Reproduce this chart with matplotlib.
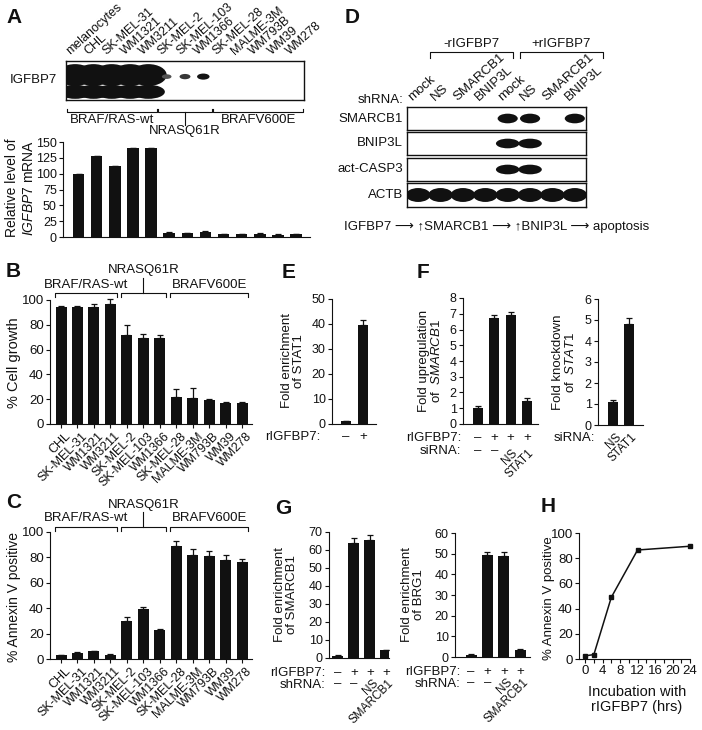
import numpy as np
import matplotlib
matplotlib.use("Agg")
import matplotlib.pyplot as plt
from matplotlib.patches import Ellipse
import matplotlib.transforms as mtransforms

plt.rcParams['font.family'] = ['Liberation Sans', 'DejaVu Sans']
plt.rcParams['mathtext.fontset'] = 'custom'
plt.rcParams['mathtext.rm'] = 'Liberation Sans'
plt.rcParams['mathtext.it'] = 'Liberation Sans:italic'
plt.rcParams['axes.linewidth'] = 0.8

INK = '#111111'

# ---- data ----
cell_lines = ["melanocytes", "CHL", "SK-MEL-31", "WM1321", "WM3211", "SK-MEL-2",
              "SK-MEL-103", "WM1366", "SK-MEL-28", "MALME-3M", "WM793B", "WM39", "WM278"]
mrna_level = [100, 128, 112, 140, 141, 7, 6, 8, 4, 4, 5, 3, 4]
mrna_err = [0, 0, 0, 0, 0, 1, 1, 1, 1.5, 1.5, 1, 1.5, 1]
blot_a_upper = [1, 1, 1, 1, 1, 0.5, 0.7, 0.95, 0, 0, 0, 0, 0]
blot_a_lower = [1, 1, 1, 1, 1, 0, 0, 0, 0, 0, 0, 0, 0]
groups_a = [("BRAF/RAS-wt", 0, 5), ("NRASQ61R", 5, 8), ("BRAFV600E", 8, 13)]

tumor_lines = cell_lines[1:]
cell_growth = [94, 94, 94, 97, 72, 69, 69, 22, 21, 19, 17, 17]
cell_growth_err = [1, 1, 2.5, 4, 8, 3.5, 2.5, 6, 8, 1, 1, 1]
annexin = [3, 5, 6, 3.5, 30, 39, 22.5, 89, 82, 81, 78, 76]
annexin_err = [0.5, 0.5, 0.5, 0.5, 3, 2, 1, 4, 5, 4, 4, 3]
groups_bc = [("BRAF/RAS-wt", 0, 3), ("NRASQ61R", 4, 6), ("BRAFV600E", 7, 11)]

d_lanes = ["mock", "NS", "SMARCB1", "BNIP3L", "mock", "NS", "SMARCB1", "BNIP3L"]
d_rows = ["SMARCB1", "BNIP3L", "act-CASP3", "ACTB"]
d_bands = [[0, 0, 0, 0, 1, 1, 0, 1],
           [0, 0, 0, 0, 1, 1, 0, 0],
           [0, 0, 0, 0, 1, 1, 0, 0],
           [1, 1, 1, 1, 1, 1, 1, 1]]
d_groups = [("-rIGFBP7", 0, 3), ("+rIGFBP7", 4, 7)]

e_rigfbp7 = ["–", "+"]
e_stat1 = [1.0, 39.5]
e_err = [0.3, 2.2]

f_rigfbp7 = ["–", "+", "+", "+"]
f_sirna = ["–", "–", "NS", "STAT1"]
f_smarcb1 = [1.0, 6.7, 6.9, 1.45]
f_smarcb1_err = [0.12, 0.25, 0.18, 0.2]
f2_sirna = ["NS", "STAT1"]
f2_knock = [1.1, 4.8]
f2_err = [0.07, 0.3]

g_rigfbp7 = ["–", "+", "+", "+"]
g_shrna = ["–", "–", "NS", "SMARCB1"]
g_smarcb1 = [1.2, 64, 65.5, 4.3]
g_smarcb1_err = [0.2, 2.5, 2.8, 0.3]
g_brg1 = [1.2, 49.5, 49, 3.5]
g_brg1_err = [0.2, 1.2, 2, 0.3]

h_hours = [0, 2, 6, 12, 24]
h_annexin = [2.5, 3.5, 49, 86.5, 89.5]

W, H = 702, 730
fig = plt.figure(figsize=(W / 100, H / 100), dpi=100)

FS_TICK = 9.5   # tick labels
FS_LAB = 9.5    # small horizontal labels
FS_ROT = 8.5    # rotated treatment labels
FS_Y2 = 9.5     # two-line axis titles


def px_axes(x0, y0, x1, y1):
    return fig.add_axes([x0 / W, 1 - y1 / H, (x1 - x0) / W, (y1 - y0) / H])


def px_text(x, y, s, **kw):
    kw.setdefault('color', INK)
    return fig.text(x / W, 1 - y / H, s, **kw)


def vlabel(x, y, s, fs=FS_Y2):
    return px_text(x, y, s, fontsize=fs, rotation=90, ha='center', va='center')


def frame(ax, xlim, ylim, yticks, fs=FS_TICK):
    ax.set_xlim(xlim)
    ax.set_ylim(ylim)
    ax.set_yticks(yticks)
    for s in ['top', 'right']:
        ax.spines[s].set_visible(False)
    for s in ['left', 'bottom']:
        ax.spines[s].set_color(INK)
    ax.tick_params(length=3, width=0.8, labelsize=fs, pad=1.5, color=INK, labelcolor=INK)


def bars(ax, vals, errs, width):
    x = np.arange(len(vals))
    ax.bar(x, vals, width, color=INK, zorder=2)
    ax.errorbar(x, vals, yerr=[np.zeros(len(vals)), errs], fmt='none', ecolor=INK,
                elinewidth=0.9, capsize=2.2, capthick=0.9, zorder=3, clip_on=False)
    return x


def bracket(ax, x0, x1, y, dy):
    tr = ax.get_xaxis_transform()
    ax.plot([x0, x0, x1, x1], [y + dy, y, y, y + dy], transform=tr, clip_on=False,
            color=INK, lw=0.8)


def under(ax, labels, dy, rot_dy=None, rot_dx=2):
    tr = ax.get_xaxis_transform()
    for i, s in enumerate(labels):
        if len(s) > 1:
            ax.annotate(s, xy=(i, 0), xycoords=tr, xytext=(rot_dx, -rot_dy),
                        textcoords='offset pixels', ha='right', va='top', rotation=45,
                        rotation_mode='anchor', fontsize=FS_ROT, color=INK, annotation_clip=False)
        else:
            ax.annotate(s, xy=(i, 0), xycoords=tr, xytext=(0, -dy), textcoords='offset pixels',
                        ha='center', va='center', fontsize=FS_LAB, color=INK, annotation_clip=False)


# panel letters
for letter, x, y in [("A", 6, 8), ("B", 6, 262), ("C", 6, 493), ("D", 345, 8),
                     ("E", 282, 263), ("F", 417, 263), ("G", 275, 499), ("H", 541, 497)]:
    px_text(x, y, letter, fontsize=15, fontweight='bold', ha='left', va='top')

# ---- A: blot ----
ax = px_axes(66, 61, 304, 100)
ax.set_xlim(0, 13)
ax.set_ylim(0, 1)
ax.set_xticks([])
ax.set_yticks([])
for s in ax.spines.values():
    s.set_linewidth(1.0)
    s.set_color(INK)
for i, v in enumerate(blot_a_upper):
    if v >= 1:
        ax.add_patch(Ellipse((i + 0.5, 0.64), 2.0, 0.56, color=INK, lw=0))
    elif v > 0:
        ax.add_patch(Ellipse((i + 0.5, 0.6), 0.35 + 0.35 * v, 0.08 + 0.08 * v,
                             color=str(0.6 - 0.55 * v), lw=0))
for i, v in enumerate(blot_a_lower):
    if v > 0:
        ax.add_patch(Ellipse((i + 0.5, 0.21), 1.8, 0.36, color=INK, lw=0))
for i, name in enumerate(cell_lines):
    ax.annotate(name, xy=(i + 0.5, 1), xycoords=('data', 'axes fraction'), xytext=(-3, 4),
                textcoords='offset pixels', rotation=42, ha='left', va='bottom',
                rotation_mode='anchor', fontsize=9, color=INK, annotation_clip=False)
px_text(57, 80, "IGFBP7", fontsize=FS_LAB, ha='right', va='center')
for name, g0, g1 in groups_a:
    bracket(ax, g0 + 0.05, g1 - 0.05, -0.31, 0.08)
    xm = (g0 + g1) / 2
    if name == "NRASQ61R":
        ax.plot([xm, xm], [-0.31, -0.64], transform=ax.get_xaxis_transform(),
                clip_on=False, color=INK, lw=0.8)
        ax.text(xm, -0.8, name, transform=ax.get_xaxis_transform(), ha='center',
                va='center', fontsize=FS_LAB, color=INK)
    else:
        ax.text(xm, -0.51, name, transform=ax.get_xaxis_transform(), ha='center',
                va='center', fontsize=FS_LAB, color=INK)

# ---- A: mRNA bars ----
ax = px_axes(63, 142, 310, 237)
bars(ax, mrna_level, mrna_err, 0.63)
frame(ax, (-0.86, 12.77), (0, 150), np.arange(0, 151, 25), fs=9)
ax.set_xticks([])
vlabel(12, 188, "Relative level of", fs=10)
vlabel(29, 188, r"$\it{IGFBP7}$ mRNA", fs=10)


# ---- B and C ----
def cell_panel(y0, y1, vals, errs, ylabel, yl, yfs, br):
    ax = px_axes(50, y0, 252, y1)
    x = bars(ax, vals, errs, 0.67)
    frame(ax, (-0.67, 11.6), (0, 100), np.arange(0, 101, 20))
    ax.set_xticks(x)
    ax.set_xticklabels(tumor_lines, rotation=45, ha='right', rotation_mode='anchor', fontsize=9)
    off = mtransforms.ScaledTranslation(0.04, 0, fig.dpi_scale_trans)
    for lab in ax.get_xticklabels():
        lab.set_transform(lab.get_transform() + off)
    by, bdy, side_y, mid_top, mid_y = br
    for name, g0, g1 in groups_bc:
        bracket(ax, g0 - 0.38, g1 + 0.38, by, bdy)
        xm = (g0 + g1) / 2
        tr = ax.get_xaxis_transform()
        if name == "NRASQ61R":
            ax.plot([xm, xm], [by, mid_top], transform=tr, clip_on=False, color=INK, lw=0.8)
            ax.text(xm, mid_y, name, transform=tr, ha='center', va='center', fontsize=FS_LAB, color=INK)
        else:
            ax.text(xm, side_y, name, transform=tr, ha='center', va='center', fontsize=FS_LAB, color=INK)
    vlabel(14, yl, ylabel, fs=yfs)


cell_panel(300, 424, cell_growth, cell_growth_err, "% Cell growth", 363, 10.5,
           (1.056, -0.032, 1.12, 1.177, 1.24))
cell_panel(532, 659, annexin, annexin_err, "% Annexin V positive", 597, 10,
           (1.039, -0.031, 1.11, 1.157, 1.21))

# ---- D: blot ----
row_px = [(107, 130), (132, 155), (158, 181), (183, 207)]
for r, (name, (y0, y1)) in enumerate(zip(d_rows, row_px)):
    ax = px_axes(407, y0, 586, y1)
    ax.set_xlim(-0.5, 7.5)
    ax.set_ylim(0, 1)
    ax.set_xticks([])
    ax.set_yticks([])
    for s in ax.spines.values():
        s.set_linewidth(1.0)
        s.set_color(INK)
    for i, v in enumerate(d_bands[r]):
        if v > 0:
            if name == "ACTB":
                ax.add_patch(Ellipse((i, 0.5), 1.1, 0.58, color=INK, lw=0))
            elif name == "SMARCB1":
                ax.add_patch(Ellipse((i, 0.5), 0.9, 0.42, color=INK, lw=0))
            else:
                ax.add_patch(Ellipse((i, 0.5), 1.05, 0.42, color=INK, lw=0))
    px_text(403, (y0 + y1) / 2, name, fontsize=FS_LAB, ha='right', va='center')
    if r == 0:
        for i, lane in enumerate(d_lanes):
            ax.annotate(lane, xy=(i, 1), xycoords=('data', 'axes fraction'), xytext=(-4, 4),
                        textcoords='offset pixels', rotation=42, ha='left', va='bottom',
                        rotation_mode='anchor', fontsize=9.5, color=INK, annotation_clip=False)
        for gname, g0, g1 in d_groups:
            bracket(ax, g0 + 0.55, g1 + 1.25, 3.39, -0.26)
            ax.text((g0 + g1) / 2 + 0.9, 3.72, gname, transform=ax.get_xaxis_transform(),
                    ha='center', va='center', fontsize=FS_LAB, color=INK)
px_text(403, 100, "shRNA:", fontsize=FS_LAB, ha='right', va='center')
px_text(344, 227, "IGFBP7 \u27f6 \u2191SMARCB1 \u27f6 \u2191BNIP3L \u27f6 apoptosis",
        fontsize=9.5, ha='left', va='center')

# ---- E ----
ax = px_axes(332, 299, 376, 424)
bars(ax, e_stat1, e_err, 0.62)
frame(ax, (-0.82, 1.76), (0, 50), np.arange(0, 51, 10), fs=9)
ax.set_xticks([])
under(ax, e_rigfbp7, 13)
px_text(320, 437, "rIGFBP7:", fontsize=FS_LAB, ha='right', va='center')
vlabel(287, 361, "Fold enrichment")
vlabel(299, 361, "of STAT1")

# ---- F ----
ax = px_axes(463, 298, 538, 424)
bars(ax, f_smarcb1, f_smarcb1_err, 0.62)
frame(ax, (-0.92, 3.67), (0, 8), np.arange(0, 9, 1), fs=9)
ax.set_xticks([])
under(ax, f_rigfbp7, 14)
under(ax, f_sirna, 27, rot_dy=23, rot_dx=1)
px_text(461, 438, "rIGFBP7:", fontsize=FS_LAB, ha='right', va='center')
px_text(461, 451, "siRNA:", fontsize=FS_LAB, ha='right', va='center')
vlabel(424, 361, "Fold upregulation")
vlabel(437, 361, r"of  $\it{SMARCB1}$")

ax = px_axes(598, 299, 643, 425)
bars(ax, f2_knock, f2_err, 0.62)
frame(ax, (-0.94, 1.88), (0, 6), np.arange(0, 7, 1), fs=9)
ax.set_xticks([])
under(ax, f2_sirna, 13, rot_dy=6, rot_dx=2)
px_text(595, 438, "siRNA:", fontsize=FS_LAB, ha='right', va='center')
vlabel(558, 362, "Fold knockdown")
vlabel(571, 362, r"of  $\it{STAT1}$")

# ---- G ----
ax = px_axes(329, 532, 389, 658)
bars(ax, g_smarcb1, g_smarcb1_err, 0.67)
frame(ax, (-0.55, 3.2), (0, 70), np.arange(0, 71, 10), fs=9)
ax.set_xticks([])
under(ax, g_rigfbp7, 15)
under(ax, g_shrna, 26, rot_dy=19, rot_dx=2)
px_text(325, 673, "rIGFBP7:", fontsize=FS_LAB, ha='right', va='center')
px_text(325, 685, "shRNA:", fontsize=FS_LAB, ha='right', va='center')
vlabel(280, 595, "Fold enrichment")
vlabel(292, 595, "of SMARCB1")

ax = px_axes(455, 533, 530, 657)
bars(ax, g_brg1, g_brg1_err, 0.67)
frame(ax, (-0.98, 3.6), (0, 60), np.arange(0, 61, 10), fs=9)
ax.set_xticks([])
under(ax, g_rigfbp7, 15)
under(ax, g_shrna, 26, rot_dy=19, rot_dx=2)
px_text(460, 672, "rIGFBP7:", fontsize=FS_LAB, ha='right', va='center')
px_text(460, 684, "shRNA:", fontsize=FS_LAB, ha='right', va='center')
vlabel(407, 595, "Fold enrichment")
vlabel(419, 595, "of BRG1")

# ---- H ----
ax = px_axes(579, 533, 690, 659)
ax.plot(h_hours, h_annexin, '-s', color=INK, lw=1.1, ms=3.5, clip_on=False, zorder=3)
frame(ax, (-1.4, 24), (0, 100), np.arange(0, 101, 20), fs=9.5)
ax.set_xticks(np.arange(0, 25, 4))
ax.set_xticks(np.arange(0, 25, 2), minor=True)
ax.tick_params(which='minor', length=3, width=0.8, color=INK)
px_text(637, 692, "Incubation with", fontsize=10.5, ha='center', va='center')
px_text(637, 707, "rIGFBP7 (hrs)", fontsize=10.5, ha='center', va='center')
vlabel(549, 598, "% Annexin V positive", fs=9.5)

fig.savefig("out.png", dpi=100)
